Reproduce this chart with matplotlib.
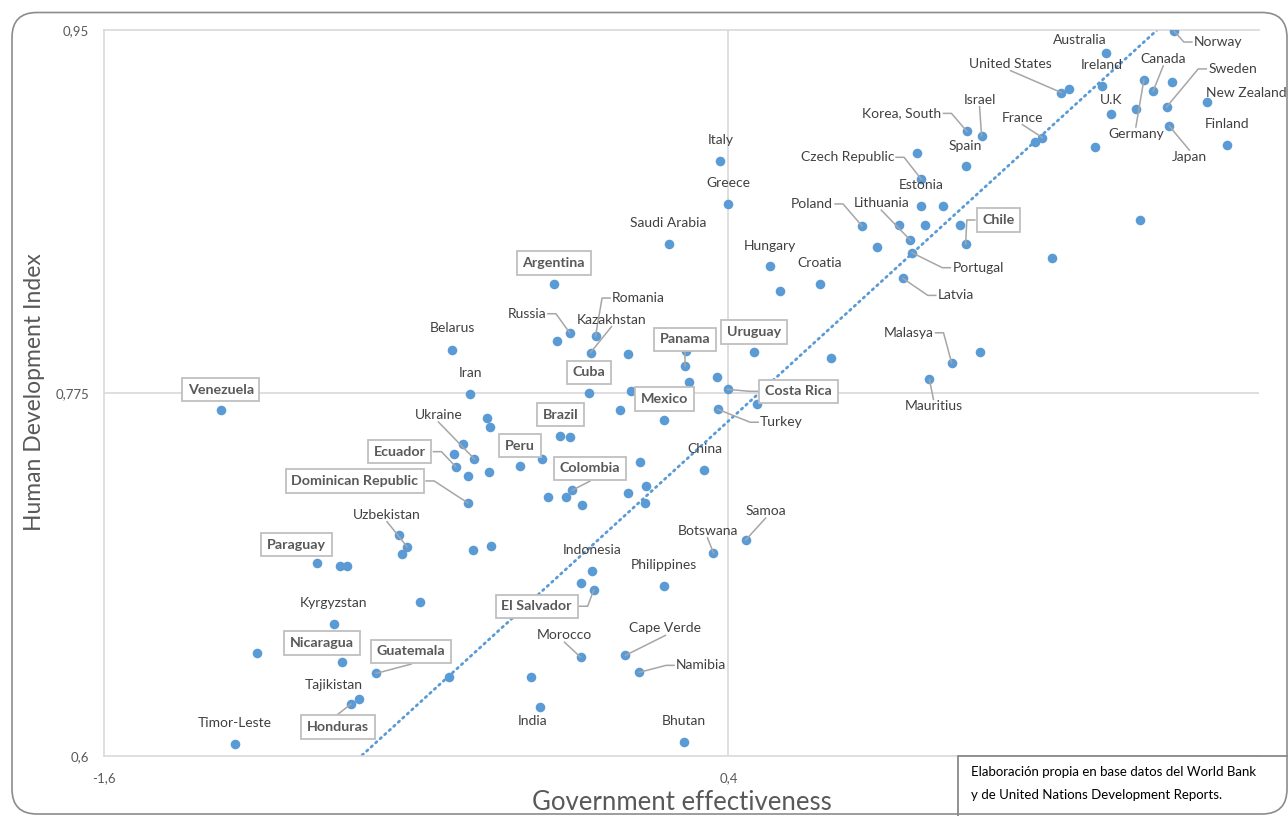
import matplotlib
matplotlib.use("Agg")
import matplotlib.pyplot as plt
import numpy as np
from matplotlib.patches import FancyBboxPatch, Rectangle
from matplotlib.transforms import IdentityTransform

plt.rcParams['font.family'] = ['Lato', 'DejaVu Sans']

# ---------------- data ----------------
countries = ["Norway", "Australia", "United States", "Ireland", "Canada", "Germany",
             "Sweden", "New Zealand", "U.K", "Japan", "Finland", "Israel",
             "Korea, South", "France", "Spain", "Czech Republic", "Estonia", "Poland",
             "Lithuania", "Portugal", "Chile", "Latvia", "Italy", "Greece",
             "Saudi Arabia", "Hungary", "Croatia", "Argentina", "Russia", "Romania",
             "Kazakhstan", "Belarus", "Panama", "Uruguay", "Iran", "Cuba",
             "Costa Rica", "Turkey", "Mexico", "Ukraine", "Brazil", "Peru",
             "Ecuador", "Dominican Republic", "Colombia", "China", "Samoa", "Botswana",
             "Venezuela", "Uzbekistan", "Paraguay", "Kyrgyzstan", "Nicaragua", "Guatemala",
             "Tajikistan", "Honduras", "Timor-Leste", "Indonesia", "El Salvador", "Philippines",
             "Morocco", "Cape Verde", "Namibia", "India", "Bhutan", "Malasya", "Mauritius"]

gov_eff = [1.828, 1.609, 1.467, 1.597, 1.761, 1.731,
           1.804, 1.932, 1.627, 1.813, 1.998, 1.211,
           1.164, 1.406, 1.160, 1.018, 1.018, 0.828,
           0.983, 0.988, 1.160, 0.959, 0.374, 0.399,
           0.208, 0.533, 0.693, -0.160, -0.109, -0.026,
           -0.042, -0.486, 0.262, 0.482, -0.428, -0.047,
           0.397, 0.365, 0.195, -0.414, -0.139, -0.268,
           -0.474, -0.435, -0.101, 0.323, 0.455, 0.352,
           -1.227, -0.630, -0.920, -0.865, -0.839, -0.729,
           -0.783, -0.810, -1.181, -0.038, -0.032, 0.194,
           -0.074, 0.070, 0.114, -0.205, 0.257, 1.115, 1.044]

hdi = [0.9495, 0.9389, 0.9198, 0.9230, 0.9206, 0.9259,
       0.9129, 0.9153, 0.9096, 0.9036, 0.8947, 0.8990,
       0.9011, 0.8981, 0.8844, 0.8780, 0.8653, 0.8555,
       0.8486, 0.8426, 0.8468, 0.8302, 0.8867, 0.8661,
       0.8466, 0.8363, 0.8275, 0.8275, 0.8040, 0.8024,
       0.7944, 0.7958, 0.7878, 0.7948, 0.7743, 0.7748,
       0.7767, 0.7671, 0.7618, 0.7431, 0.7543, 0.7399,
       0.7394, 0.7219, 0.7280, 0.7376, 0.7040, 0.6978,
       0.7669, 0.7008, 0.6931, 0.6637, 0.6452, 0.6397,
       0.6275, 0.6249, 0.6056, 0.6889, 0.6798, 0.6820,
       0.6475, 0.6484, 0.6402, 0.6236, 0.6066, 0.7895, 0.7815]

other_gov_eff = [1.491, 1.820, 1.706, 1.573, 1.383, 1.005, 1.087, 0.945, 1.029, 1.141,
                 0.876, 1.720, 1.436, 0.565, 1.205, -0.148, 0.078, 0.265, 0.730, 0.089,
                 0.273, 0.362, 0.490, 0.053, -0.375, -0.364, -0.452, -0.478, -0.435, -0.368,
                 -0.198, -0.108, 0.116, -0.177, -0.119, -0.069, 0.077, 0.137, 0.132, -0.419,
                 -0.362, -0.657, -0.646, -0.844, -0.823, -0.588, -1.112, -0.071, -0.232, -0.497]
other_hdi = [0.9214, 0.9249, 0.9118, 0.8937, 0.8958, 0.8905, 0.8653, 0.8558, 0.8561, 0.8558,
             0.8452, 0.8585, 0.8399, 0.8240, 0.7948, 0.8002, 0.7937, 0.7953, 0.7918, 0.7759,
             0.7801, 0.7825, 0.7696, 0.7666, 0.7630, 0.7587, 0.7502, 0.7454, 0.7350, 0.7367,
             0.7430, 0.7537, 0.7417, 0.7249, 0.7246, 0.7209, 0.7266, 0.7302, 0.7217, 0.6992,
             0.7011, 0.7063, 0.6973, 0.6916, 0.6916, 0.6741, 0.6495, 0.6834, 0.6381, 0.6380]

latam = ["Argentina", "Panama", "Uruguay", "Cuba", "Costa Rica", "Mexico", "Brazil", "Peru",
         "Ecuador", "Dominican Republic", "Colombia", "Venezuela", "Paraguay", "Nicaragua",
         "Guatemala", "Honduras", "El Salvador", "Chile"]

# linear trend line (slope, intercept)
trend_slope = 0.1373
trend_intercept = 0.7065

x_ticks = [-1.6, 0.4]
x_ticklabels = ["-1,6", "0,4"]
y_ticks = [0.6, 0.775, 0.95]
y_ticklabels = ["0,6", "0,775", "0,95"]
x_title = "Government effectiveness"
y_title = "Human Development Index"
source_lines = ["Elaboración propia en base datos del World Bank",
                "y de United Nations Development Reports."]

# ---------------- label layout (pixel offsets, leader side) ----------------
label_offsets = {
    "Norway": (44, -11), "Australia": (-26, 13), "United States": (-51, 29),
    "Ireland": (0, 21), "Canada": (10, 32), "Germany": (-8, -54), "Sweden": (66, 38),
    "New Zealand": (40, 9), "U.K": (0, 14), "Japan": (20, -31), "Finland": (0, 21),
    "Israel": (-2, 36), "Korea, South": (-65, 18), "France": (-20, 20), "Spain": (0, 20),
    "Czech Republic": (-74, 22), "Estonia": (0, 21), "Poland": (-50, 22),
    "Lithuania": (-29, 37), "Portugal": (66, -15), "Chile": (33, 24), "Latvia": (53, -17),
    "Italy": (0, 21), "Greece": (0, 21), "Saudi Arabia": (0, 21), "Hungary": (0, 20),
    "Croatia": (0, 21), "Argentina": (0, 21), "Russia": (-43, 19), "Romania": (43, 38),
    "Kazakhstan": (21, 33), "Belarus": (0, 22), "Panama": (0, 27), "Uruguay": (0, 20),
    "Iran": (0, 21), "Cuba": (0, 21), "Costa Rica": (71, -2), "Turkey": (64, -13),
    "Mexico": (0, 21), "Ukraine": (-36, 44), "Brazil": (0, 21), "Peru": (0, 20),
    "Ecuador": (-56, 15), "Dominican Republic": (-113, 22), "Colombia": (18, 22),
    "China": (0, 21), "Samoa": (20, 29), "Botswana": (-6, 22), "Venezuela": (0, 20),
    "Uzbekistan": (-20, 32), "Paraguay": (-20, 18), "Kyrgyzstan": (0, 21),
    "Nicaragua": (-20, 19), "Guatemala": (35, 22), "Tajikistan": (-26, 14),
    "Honduras": (-13, -23), "Timor-Leste": (0, 21), "Indonesia": (0, 21),
    "El Salvador": (-57, -16), "Philippines": (0, 21), "Morocco": (-16, 22),
    "Cape Verde": (40, 27), "Namibia": (62, 7), "India": (-7, -14), "Bhutan": (0, 21),
    "Malasya": (-43, 30), "Mauritius": (4, -27),
}
leader_side = {
    "Norway": "l", "United States": "b", "Canada": "b", "Sweden": "l", "Israel": "b",
    "Korea, South": "r", "France": "b", "Germany": "t", "Japan": "t",
    "Czech Republic": "r", "Poland": "r", "Lithuania": "b", "Portugal": "l",
    "Chile": "l", "Latvia": "l", "Russia": "r", "Romania": "l", "Kazakhstan": "b",
    "Panama": "b", "Costa Rica": "l", "Turkey": "l", "Ukraine": "b", "Ecuador": "r",
    "Dominican Republic": "r", "Colombia": "b", "Samoa": "b", "Botswana": "b",
    "Uzbekistan": "b", "Guatemala": "b", "Honduras": "t", "El Salvador": "r",
    "Morocco": "b", "Cape Verde": "b", "Namibia": "l", "Malasya": "r", "Mauritius": "t",
}

# ---------------- figure ----------------
W, H = 1288, 816
fig = plt.figure(figsize=(W / 100, H / 100), dpi=100)
fig.patch.set_facecolor("white")

ax_l, ax_r, ax_t, ax_b = 104.3, 1259, 30, 755.7
ax = fig.add_axes([ax_l / W, 1 - ax_b / H, (ax_r - ax_l) / W, (ax_b - ax_t) / H])
ax.set_xlim(-1.6, 2.1)
ax.set_ylim(0.6, 0.95)

blue = "#5B9BD5"
grid_c = "#D9D9D9"

ax.axhline(0.775, color=grid_c, lw=1.2, zorder=0)
ax.axvline(0.4, color=grid_c, lw=1.2, zorder=0)
for s in ["top", "left", "bottom"]:
    ax.spines[s].set_color(grid_c)
    ax.spines[s].set_linewidth(1.2)
ax.spines["right"].set_visible(False)

all_x = np.array(gov_eff + other_gov_eff)
all_y = np.array(hdi + other_hdi)
xs = np.array([all_x.min(), all_x.max()])
ax.plot(xs, trend_intercept + trend_slope * xs, color=blue, lw=2.0, ls=(0, (0.6, 1.6)),
        dash_capstyle="round", zorder=2)

ax.scatter(all_x, all_y, s=48, color=blue, linewidths=0, zorder=3)

ax.set_xticks(x_ticks)
ax.set_xticklabels(x_ticklabels)
ax.set_yticks(y_ticks)
ax.set_yticklabels(y_ticklabels)
ax.tick_params(length=0, labelsize=9.5, labelcolor="#595959")
ax.tick_params(axis="x", pad=12)
ax.tick_params(axis="y", pad=11)

texts = {}
for name, gx, hy in zip(countries, gov_eff, hdi):
    dx, dy = label_offsets[name]
    if name in latam:
        t = ax.annotate(name, xy=(gx, hy), xytext=(dx, dy), textcoords="offset pixels",
                        ha="center", va="center", fontsize=10.3, fontweight="bold",
                        color="#595959", zorder=6, annotation_clip=False,
                        bbox=dict(boxstyle="square,pad=0.4", fc="white", ec="#BFBFBF", lw=1.3))
    else:
        t = ax.annotate(name, xy=(gx, hy), xytext=(dx, dy), textcoords="offset pixels",
                        ha="center", va="center", fontsize=10, color="#404040",
                        zorder=6, annotation_clip=False)
    texts[name] = t

fig.canvas.draw()
r = fig.canvas.get_renderer()
inv = ax.transData.inverted()
lookup = {n: (gx, hy) for n, gx, hy in zip(countries, gov_eff, hdi)}
for name, side in leader_side.items():
    t = texts[name]
    if name in latam:
        bb = t.get_bbox_patch().get_window_extent(r)
    else:
        bb = t.get_window_extent(r)
    px, py = ax.transData.transform(lookup[name])
    cx, cy = (bb.x0 + bb.x1) / 2, (bb.y0 + bb.y1) / 2
    if side == "l":
        pts = [(bb.x0 - 2, cy), (bb.x0 - 10, cy), (px, py)]
    elif side == "r":
        pts = [(bb.x1 + 2, cy), (bb.x1 + 10, cy), (px, py)]
    elif side == "b":
        pts = [(cx, bb.y0 - 1), (px, py)]
    else:
        pts = [(cx, bb.y1 + 1), (px, py)]
    d = inv.transform(np.array(pts))
    ax.plot(d[:, 0], d[:, 1], color="#A6A6A6", lw=1.1, zorder=4, clip_on=False)

# axis titles
fig.text(682 / W, 1 - 802 / H, x_title, ha="center", va="center", fontsize=18.5,
         color="#595959")
fig.text(35 / W, 1 - 392 / H, y_title, ha="center", va="center", rotation=90,
         fontsize=16.5, color="#595959")

# source box
fig.add_artist(Rectangle((957.7, -5), 400, 816 - 755.7 + 5, transform=IdentityTransform(),
                         fc="white", ec="#7F7F7F", lw=1.2, zorder=5))
fig.text(971 / W, 1 - 772 / H, source_lines[0], ha="left", va="center",
         fontsize=9.5, color="black", zorder=6)
fig.text(971 / W, 1 - 795 / H, source_lines[1], ha="left", va="center",
         fontsize=9.5, color="black", zorder=6)

# outer chart border
fig.add_artist(FancyBboxPatch((12, 2), 1287 - 12, 803.5 - 2,
                              boxstyle="round,pad=0,rounding_size=25",
                              transform=IdentityTransform(), fc="none",
                              ec="#8C8C8C", lw=1.2, zorder=7))

fig.savefig("out.png", dpi=100)
